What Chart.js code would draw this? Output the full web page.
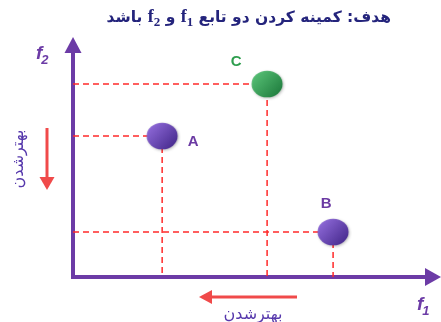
<!DOCTYPE html>
<html>
<head>
<meta charset="utf-8">
<script src="https://cdn.jsdelivr.net/npm/chart.js@4"></script>
<style>
  html, body { margin: 0; padding: 0; background: #fff; }
  #wrap { width: 441px; height: 322px; }
</style>
</head>
<body>
<div id="wrap"><canvas id="pareto"></canvas></div>
<script>
// points on the f1 / f2 plane
const pointNames = ['A', 'C', 'B'];
const f1Values = [2.54, 5.53, 7.41];
const f2Values = [6.21, 8.50, 1.98];

const titleText = 'هدف: کمینه کردن دو تابع';
const betterText = 'بهترشدن';

const purple = '#6c3ba6';
const dashRed = '#ff2a2a';
const arrowRed = '#f04a4a';

// ellipse marker with a soft gradient, used as pointStyle
function makeBall(light, dark) {
  const c = document.createElement('canvas');
  c.width = 38; c.height = 34;
  const g = c.getContext('2d');
  g.save();
  g.shadowColor = 'rgba(0,0,0,0.25)';
  g.shadowBlur = 3;
  g.shadowOffsetX = 1;
  g.shadowOffsetY = 1;
  const grad = g.createLinearGradient(4, 4, 32, 30);
  grad.addColorStop(0, light);
  grad.addColorStop(1, dark);
  g.fillStyle = grad;
  g.beginPath();
  g.ellipse(19, 17, 15.5, 13.3, 0, 0, Math.PI * 2);
  g.fill();
  g.restore();
  return c;
}
const violetBall = makeBall('#9670e0', '#43278a');
const greenBall = makeBall('#5cc67a', '#1d7a3c');

const guideSets = pointNames.map((n, i) => ({
  type: 'line',
  label: 'guide ' + n,
  data: [{x: 0, y: f2Values[i]}, {x: f1Values[i], y: f2Values[i]}, {x: f1Values[i], y: 0}],
  borderColor: dashRed,
  borderWidth: 1.5,
  borderDash: [6, 4],
  pointRadius: 0,
  fill: false,
  order: 2
}));

function arrow(ctx, x1, y1, x2, y2, color, width, headLen, headHalf) {
  const ang = Math.atan2(y2 - y1, x2 - x1);
  const bx = x2 - Math.cos(ang) * headLen;
  const by = y2 - Math.sin(ang) * headLen;
  ctx.save();
  ctx.strokeStyle = color;
  ctx.fillStyle = color;
  ctx.lineWidth = width;
  ctx.beginPath();
  ctx.moveTo(x1, y1);
  ctx.lineTo(bx, by);
  ctx.stroke();
  ctx.beginPath();
  ctx.moveTo(x2, y2);
  ctx.lineTo(bx + Math.sin(ang) * headHalf, by - Math.cos(ang) * headHalf);
  ctx.lineTo(bx - Math.sin(ang) * headHalf, by + Math.cos(ang) * headHalf);
  ctx.closePath();
  ctx.fill();
  ctx.restore();
}

function fLabel(ctx, x, y, sub) {
  ctx.save();
  ctx.fillStyle = purple;
  ctx.textBaseline = 'alphabetic';
  ctx.textAlign = 'left';
  ctx.font = 'bold italic 19px "Liberation Sans"';
  ctx.fillText('f', x, y);
  const w = ctx.measureText('f').width;
  ctx.font = 'bold italic 13px "Liberation Sans"';
  ctx.fillText(sub, x + w - 1, y + 5);
  ctx.restore();
}

const decorPlugin = {
  id: 'decor',
  beforeDatasetsDraw(chart) {
    const ctx = chart.ctx;
    const xs = chart.scales.x, ys = chart.scales.y;
    const ox = xs.getPixelForValue(0), oy = ys.getPixelForValue(0);
    // axes with arrow heads
    arrow(ctx, ox, oy + 2, ox, chart.chartArea.top - 13, purple, 4, 16, 8.5);
    arrow(ctx, ox - 2, oy, chart.chartArea.right + 17, oy, purple, 4, 16, 9);
  },
  afterDatasetsDraw(chart) {
    const ctx = chart.ctx;
    const meta = chart.getDatasetMeta(chart.data.datasets.length - 1);
    const offs = {A: [31, 6], C: [-31, -22], B: [-7, -28]};
    ctx.save();
    ctx.font = 'bold 15px "Liberation Sans"';
    ctx.textAlign = 'center';
    ctx.textBaseline = 'middle';
    meta.data.forEach((el, i) => {
      const n = pointNames[i];
      ctx.fillStyle = n === 'C' ? '#2e9e4e' : '#6b3aa3';
      ctx.fillText(n, el.x + offs[n][0], el.y + offs[n][1]);
    });
    ctx.restore();

    fLabel(ctx, 36, 59, '2');
    fLabel(ctx, 417, 310, '1');

    // "better" hints
    arrow(ctx, 47, 128, 47, 190, arrowRed, 3, 13, 7.5);
    arrow(ctx, 297, 297, 199, 297, arrowRed, 3, 13, 7);
    ctx.save();
    ctx.fillStyle = '#5638ac';
    ctx.font = '16px "DejaVu Sans"';
    ctx.direction = 'rtl';
    ctx.textAlign = 'center';
    ctx.textBaseline = 'middle';
    ctx.fillText(betterText, 253, 315);
    ctx.translate(19, 159);
    ctx.rotate(-Math.PI / 2);
    ctx.fillText(betterText, 0, 0);
    ctx.restore();

    // title, drawn right to left in pieces so f1 / f2 get subscripts
    const persian = 'bold 15.5px "DejaVu Sans"';
    const latin = 'bold 18px "Liberation Serif"';
    const subf = 'bold 13px "Liberation Serif"';
    const parts = [titleText + ' ', ['f', '1'], ' و ', ['f', '2'], ' باشد'];
    ctx.save();
    ctx.fillStyle = '#24247c';
    ctx.textBaseline = 'alphabetic';
    let x = 391;
    const base = 22;
    parts.forEach(p => {
      if (typeof p === 'string') {
        ctx.font = persian;
        ctx.direction = 'rtl';
        ctx.textAlign = 'right';
        const w = ctx.measureText(p).width;
        ctx.fillText(p, x, base);
        x -= w;
      } else {
        ctx.direction = 'ltr';
        ctx.textAlign = 'left';
        ctx.font = latin;
        const wf = ctx.measureText(p[0]).width;
        ctx.font = subf;
        const ws = ctx.measureText(p[1]).width;
        ctx.fillText(p[1], x - ws, base + 4);
        ctx.font = latin;
        ctx.fillText(p[0], x - ws - wf, base);
        x -= wf + ws;
      }
    });
    ctx.restore();
  }
};

new Chart(document.getElementById('pareto'), {
  type: 'scatter',
  data: {
    datasets: guideSets.concat([{
      label: 'points',
      data: pointNames.map((n, i) => ({x: f1Values[i], y: f2Values[i]})),
      pointStyle: pointNames.map(n => n === 'C' ? greenBall : violetBall),
      pointRadius: 16,
      pointHoverRadius: 16,
      order: 1
    }])
  },
  options: {
    responsive: true,
    maintainAspectRatio: false,
    animation: false,
    events: [],
    layout: { padding: { left: 73, top: 50, right: 17, bottom: 45 } },
    scales: {
      x: { type: 'linear', min: 0, max: 10, display: false },
      y: { type: 'linear', min: 0, max: 10, display: false }
    },
    plugins: {
      legend: { display: false },
      tooltip: { enabled: false }
    }
  },
  plugins: [decorPlugin]
});
</script>
</body>
</html>
